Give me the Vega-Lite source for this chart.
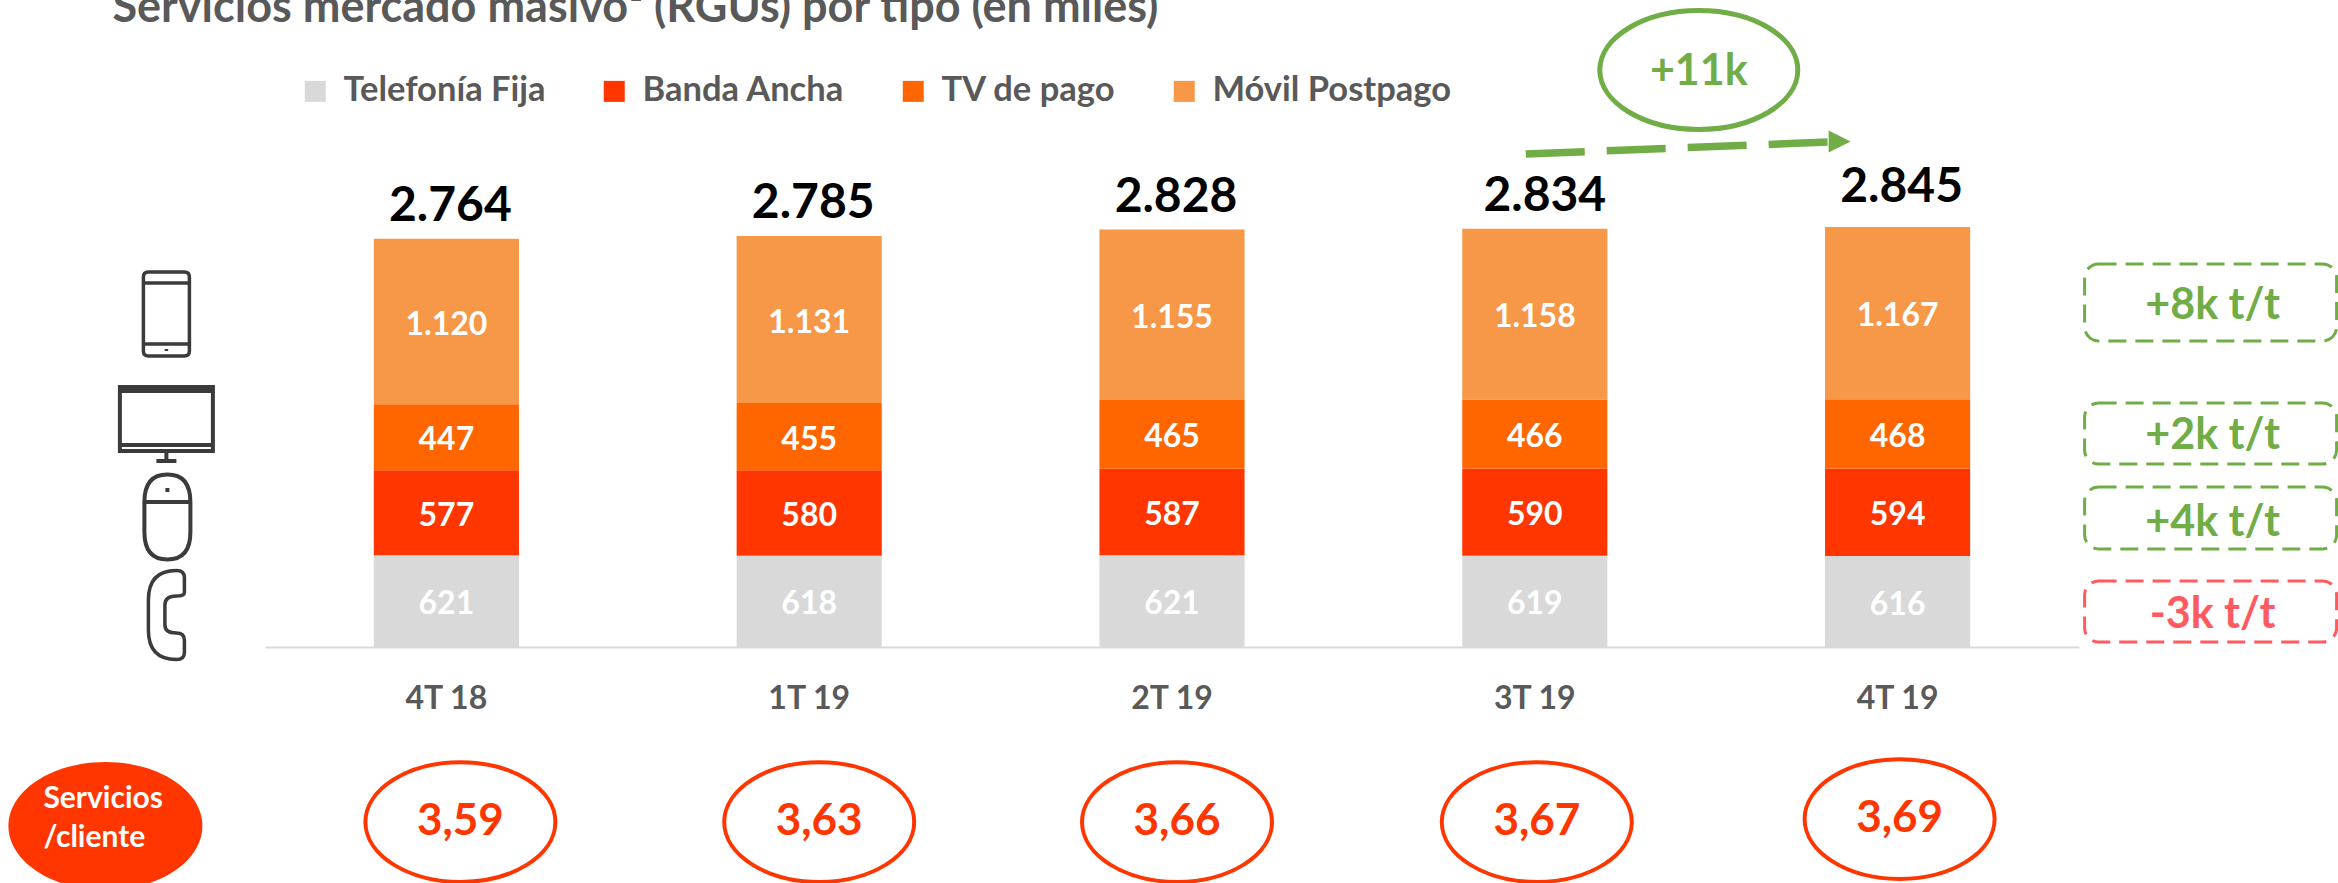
{
"$schema":"https://vega.github.io/schema/vega-lite/v6.json",
"width":1814,"height":617,
"autosize":{"type":"none"},
"padding":{"left":265,"right":259,"top":30,"bottom":236},
"background":"white",
"config":{"view":{"stroke":null},"font":"Lato","locale":{"number":{"decimal":",","thousands":".","grouping":[3],"currency":["","€"]}}},
"datasets":{
"rgus":[
{"trimestre":"4T 18","tipo":"Telefonía Fija","orden":1,"miles":621},
{"trimestre":"4T 18","tipo":"Banda Ancha","orden":2,"miles":577},
{"trimestre":"4T 18","tipo":"TV de pago","orden":3,"miles":447},
{"trimestre":"4T 18","tipo":"Móvil Postpago","orden":4,"miles":1120},
{"trimestre":"1T 19","tipo":"Telefonía Fija","orden":1,"miles":618},
{"trimestre":"1T 19","tipo":"Banda Ancha","orden":2,"miles":580},
{"trimestre":"1T 19","tipo":"TV de pago","orden":3,"miles":455},
{"trimestre":"1T 19","tipo":"Móvil Postpago","orden":4,"miles":1131},
{"trimestre":"2T 19","tipo":"Telefonía Fija","orden":1,"miles":621},
{"trimestre":"2T 19","tipo":"Banda Ancha","orden":2,"miles":587},
{"trimestre":"2T 19","tipo":"TV de pago","orden":3,"miles":465},
{"trimestre":"2T 19","tipo":"Móvil Postpago","orden":4,"miles":1155},
{"trimestre":"3T 19","tipo":"Telefonía Fija","orden":1,"miles":619},
{"trimestre":"3T 19","tipo":"Banda Ancha","orden":2,"miles":590},
{"trimestre":"3T 19","tipo":"TV de pago","orden":3,"miles":466},
{"trimestre":"3T 19","tipo":"Móvil Postpago","orden":4,"miles":1158},
{"trimestre":"4T 19","tipo":"Telefonía Fija","orden":1,"miles":616},
{"trimestre":"4T 19","tipo":"Banda Ancha","orden":2,"miles":594},
{"trimestre":"4T 19","tipo":"TV de pago","orden":3,"miles":468},
{"trimestre":"4T 19","tipo":"Móvil Postpago","orden":4,"miles":1167}
],
"totales":[
{"trimestre":"4T 18","total":2764,"servicios_cliente":3.59},
{"trimestre":"1T 19","total":2785,"servicios_cliente":3.63},
{"trimestre":"2T 19","total":2828,"servicios_cliente":3.66},
{"trimestre":"3T 19","total":2834,"servicios_cliente":3.67},
{"trimestre":"4T 19","total":2845,"servicios_cliente":3.69}
],
"variaciones":[
{"trimestre":"4T 19","texto":"+8k t/t","sentido":"sube","nivel":2310,"nivel_alto":2595,"nivel_bajo":2073},
{"trimestre":"4T 19","texto":"+2k t/t","sentido":"sube","nivel":1430,"nivel_alto":1653,"nivel_bajo":1240},
{"trimestre":"4T 19","texto":"+4k t/t","sentido":"sube","nivel":840,"nivel_alto":1084,"nivel_bajo":664},
{"trimestre":"4T 19","texto":"-3k t/t","sentido":"baja","nivel":217,"nivel_alto":447,"nivel_bajo":34}
],
"tendencia":[
{"trimestre":"3T 19","nivel":3340},
{"trimestre":"4T 19","nivel":3421}
]
},
"encoding":{"x":{"field":"trimestre","type":"nominal","sort":null,"scale":{"type":"band","domain":["4T 18","1T 19","2T 19","3T 19","4T 19"],"paddingInner":0.6,"paddingOuter":0.3},"axis":{"title":null,"labelAngle":0,"ticks":false,"domainColor":"#D9D9D9","domainWidth":2,"labelColor":"#595959","labelFontSize":32,"labelFontWeight":"bold","labelFont":"Lato","labelPadding":36,"grid":false}}},
"layer":[
{"data":{"name":"rgus"},"mark":{"type":"bar"},
"encoding":{"y":{"field":"miles","type":"quantitative","stack":"zero","scale":{"domain":[0,4180],"nice":false},"axis":null},
"order":{"field":"orden","type":"quantitative"},
"color":{"field":"tipo","type":"nominal","scale":{"domain":["Telefonía Fija","Banda Ancha","TV de pago","Móvil Postpago"],"range":["#D9D9D9","#FF3600","#FF6600","#F79748"]},
"legend":{"title":null,"orient":"none","legendX":33,"legendY":44,"direction":"horizontal","columns":4,"symbolType":"square","symbolSize":441,"labelFontSize":34.5,"labelFontWeight":"bold","labelColor":"#595959","labelFont":"Lato","labelOffset":11,"labelLimit":400,"columnPadding":51,"symbolStrokeWidth":0}}}},
{"data":{"values":[{"trimestre":"4T 18","titulo":"Servicios mercado masivo¹ (RGUs) por tipo (en miles)"}]},"mark":{"type":"text","fontSize":45,"fontWeight":"bold","color":"#595959","align":"left","baseline":"alphabetic","xOffset":-334},
"encoding":{"y":{"datum":4236,"type":"quantitative","scale":{"domain":[0,4180],"nice":false}},"text":{"field":"titulo","type":"nominal"}}},
{"data":{"name":"rgus"},"mark":{"type":"text","fontSize":32,"fontWeight":"bold","color":"white","dy":3},
"encoding":{"y":{"field":"miles","type":"quantitative","stack":"zero","bandPosition":0.5,"scale":{"domain":[0,4180],"nice":false}},
"order":{"field":"orden","type":"quantitative"},
"text":{"field":"miles","type":"quantitative","format":",d"}}},
{"data":{"name":"totales"},"mark":{"type":"text","fontSize":48,"fontWeight":"bold","color":"black","baseline":"middle","dy":-32,"dx":{"expr":"datum.trimestre=='3T 19'?10:4"},"yOffset":{"expr":"datum.trimestre=='4T 19'?-7:0"}},
"encoding":{"y":{"field":"total","type":"quantitative","scale":{"domain":[0,4180],"nice":false}},"text":{"field":"total","type":"quantitative","format":",d"}}},
{"data":{"name":"totales"},"mark":{"type":"point","shape":"M -1 0 A 1 0.63 0 1 1 1 0 A 1 0.63 0 1 1 -1 0 Z","size":36100,"filled":false,"stroke":"#FF3600","strokeWidth":4,"opacity":1,"xOffset":{"expr":"datum.trimestre=='4T 18'?14:datum.trimestre=='1T 19'?10:datum.trimestre=='2T 19'?5:2"},"yOffset":{"expr":"datum.trimestre=='4T 19'?-3:0"}},
"encoding":{"y":{"datum":-1186,"type":"quantitative","scale":{"domain":[0,4180],"nice":false}}}},
{"data":{"name":"totales"},"mark":{"type":"text","fontSize":44,"fontWeight":"bold","color":"#FF3600","xOffset":{"expr":"datum.trimestre=='4T 18'?14:datum.trimestre=='1T 19'?10:datum.trimestre=='2T 19'?5:2"},"yOffset":{"expr":"datum.trimestre=='4T 19'?-3:0"}},
"encoding":{"y":{"datum":-1186,"type":"quantitative","scale":{"domain":[0,4180],"nice":false}},"text":{"field":"servicios_cliente","type":"quantitative","format":",.2f"}}},
{"data":{"values":[{"trimestre":"4T 18","rotulo":"Servicios\n/cliente"}]},"mark":{"type":"point","shape":"M -1 0 A 1 0.66 0 1 1 1 0 A 1 0.66 0 1 1 -1 0 Z","size":37636,"filled":true,"fill":"#FF3600","stroke":null,"opacity":1,"xOffset":-341},
"encoding":{"y":{"datum":-1213,"type":"quantitative","scale":{"domain":[0,4180],"nice":false}}}},
{"data":{"values":[{"trimestre":"4T 18","rotulo":"Servicios\n/cliente"}]},"mark":{"type":"text","fontSize":30,"fontWeight":"bold","color":"white","align":"left","lineBreak":"\n","lineHeight":39,"xOffset":-403,"yOffset":-27},
"encoding":{"y":{"datum":-1213,"type":"quantitative","scale":{"domain":[0,4180],"nice":false}},"text":{"field":"rotulo","type":"nominal"}}},
{"data":{"name":"variaciones"},"mark":{"type":"rect","width":252,"xOffset":313,"cornerRadius":14,"fill":"transparent","strokeWidth":3,"strokeDash":[18,9]},
"encoding":{"y":{"field":"nivel_alto","type":"quantitative","scale":{"domain":[0,4180],"nice":false}},"y2":{"field":"nivel_bajo"},
"stroke":{"field":"sentido","type":"nominal","scale":{"domain":["sube","baja"],"range":["#70AD47","#FF5A5F"]},"legend":null}}},
{"data":{"name":"variaciones"},"mark":{"type":"text","fontSize":43,"fontWeight":"bold","xOffset":315},
"encoding":{"y":{"field":"nivel","type":"quantitative","scale":{"domain":[0,4180],"nice":false}},"text":{"field":"texto","type":"nominal"},
"fill":{"field":"sentido","type":"nominal","scale":{"domain":["sube","baja"],"range":["#70AD47","#FF5A5F"]},"legend":null}}},
{"data":{"name":"tendencia"},"mark":{"type":"line","color":"#70AD47","strokeWidth":7.5,"strokeDash":[59,22],"strokeCap":"butt","xOffset":{"expr":"datum.trimestre=='3T 19'?-9:-69"}},
"encoding":{"y":{"field":"nivel","type":"quantitative","scale":{"domain":[0,4180],"nice":false}}}},
{"data":{"values":[{"trimestre":"4T 19"}]},"mark":{"type":"point","shape":"M -1 -1 L 1 0 L -1 1 Z","size":484,"filled":true,"fill":"#70AD47","stroke":null,"opacity":1,"xOffset":-58},
"encoding":{"y":{"datum":3425,"type":"quantitative","scale":{"domain":[0,4180],"nice":false}}}},
{"data":{"values":[{"trimestre":"3T 19","rotulo":"+11k"}]},"mark":{"type":"point","shape":"M -1 0 A 1 0.6 0 1 1 1 0 A 1 0.6 0 1 1 -1 0 Z","size":39204,"filled":false,"stroke":"#70AD47","strokeWidth":5,"opacity":1,"xOffset":164},
"encoding":{"y":{"datum":3909,"type":"quantitative","scale":{"domain":[0,4180],"nice":false}}}},
{"data":{"values":[{"trimestre":"3T 19","rotulo":"+11k"}]},"mark":{"type":"text","fontSize":43,"fontWeight":"bold","color":"#70AD47","xOffset":164,"yOffset":2},
"encoding":{"y":{"datum":3909,"type":"quantitative","scale":{"domain":[0,4180],"nice":false}},"text":{"field":"rotulo","type":"nominal"}}},
{"data":{"values":[{"trimestre":"4T 18","icono":"móvil"}]},"mark":{"type":"point","shape":"M -0.36 -0.84 L 0.36 -0.84 Q 0.46 -0.84 0.46 -0.74 L 0.46 0.74 Q 0.46 0.84 0.36 0.84 L -0.36 0.84 Q -0.46 0.84 -0.46 0.74 L -0.46 -0.74 Q -0.46 -0.84 -0.36 -0.84 Z M -0.46 -0.62 L 0.46 -0.62 M -0.46 0.6 L 0.46 0.6 M 0 0.7 L 0 0.74","size":10000,"filled":false,"stroke":"#3B3B3B","strokeWidth":3.5,"opacity":1,"xOffset":-280},
"encoding":{"y":{"datum":2256,"type":"quantitative","scale":{"domain":[0,4180],"nice":false}}}},
{"data":{"values":[{"trimestre":"4T 18","icono":"tele"}]},"mark":{"type":"point","shape":"M -0.93 -0.74 L 0.93 -0.74 L 0.93 0.54 L -0.93 0.54 Z M -0.93 -0.66 L 0.93 -0.66 M -0.93 0.42 L 0.93 0.42 M 0 0.54 L 0 0.7 M -0.2 0.74 L 0.2 0.74","size":10000,"filled":false,"stroke":"#3B3B3B","strokeWidth":4,"opacity":1,"xOffset":-280},
"encoding":{"y":{"datum":1511,"type":"quantitative","scale":{"domain":[0,4180],"nice":false}}}},
{"data":{"values":[{"trimestre":"4T 18","icono":"ratón"}]},"mark":{"type":"point","shape":"M 0 -0.85 Q 0.46 -0.85 0.46 -0.3 L 0.46 0.3 Q 0.46 0.85 0 0.85 Q -0.46 0.85 -0.46 0.3 L -0.46 -0.3 Q -0.46 -0.85 0 -0.85 Z M -0.46 -0.3 L 0.46 -0.3 M 0 -0.58 L 0 -0.5","size":10000,"filled":false,"stroke":"#3B3B3B","strokeWidth":4,"opacity":1,"xOffset":-279},
"encoding":{"y":{"datum":881,"type":"quantitative","scale":{"domain":[0,4180],"nice":false}}}},
{"data":{"values":[{"trimestre":"4T 18","icono":"teléfono"}]},"mark":{"type":"point","shape":"M 0.2 -0.89 Q 0.36 -0.89 0.36 -0.75 L 0.36 -0.45 Q 0.36 -0.38 0.2 -0.38 Q -0.03 -0.38 -0.03 -0.2 L -0.03 0.2 Q -0.03 0.36 0.2 0.36 Q 0.36 0.36 0.36 0.5 L 0.36 0.75 Q 0.36 0.89 0.2 0.89 Q -0.36 0.89 -0.36 0.3 L -0.36 -0.3 Q -0.36 -0.89 0.2 -0.89 Z","size":10000,"filled":false,"stroke":"#3B3B3B","strokeWidth":3.5,"opacity":1,"xOffset":-280},
"encoding":{"y":{"datum":217,"type":"quantitative","scale":{"domain":[0,4180],"nice":false}}}}
]
}
